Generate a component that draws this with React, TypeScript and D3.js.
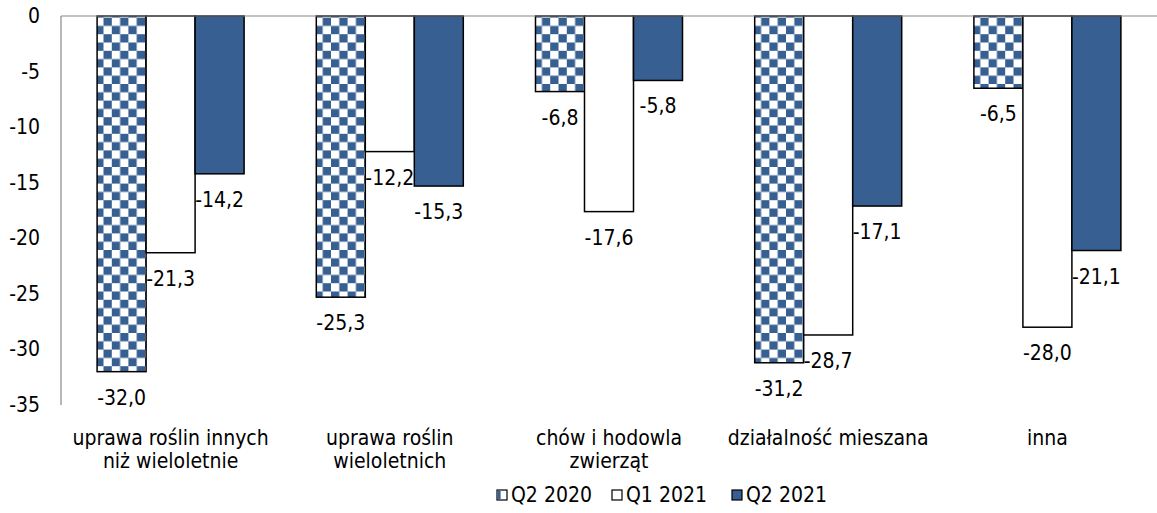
import React from "react";
import * as d3 from "d3";

const categories = [
  ["uprawa roślin innych", "niż wieloletnie"],
  ["uprawa roślin", "wieloletnich"],
  ["chów i hodowla", "zwierząt"],
  ["działalność mieszana"],
  ["inna"],
];
const seriesNames = ["Q2 2020", "Q1 2021", "Q2 2021"];
const q2_2020 = [-32.0, -25.3, -6.8, -31.2, -6.5];
const q1_2021 = [-21.3, -12.2, -17.6, -28.7, -28.0];
const q2_2021 = [-14.2, -15.3, -5.8, -17.1, -21.1];
const yTicks = [0, -5, -10, -15, -20, -25, -30, -35];

const BLUE = "#375F91";
const FONT = "'DejaVu Sans Condensed', 'DejaVu Sans', sans-serif";

const width = 1157;
const height = 513;
const margin = { top: 16, right: 0, bottom: 108, left: 61 };

const fills = ["url(#checker)", "#ffffff", BLUE];

export default function App() {
  const values = [q2_2020, q1_2021, q2_2021];
  const catIdx = categories.map((_, i) => String(i));

  const x0 = d3
    .scaleBand<string>()
    .domain(catIdx)
    .range([margin.left, width - margin.right]);
  const groupW = 147;
  const x1 = d3
    .scaleBand<string>()
    .domain(seriesNames)
    .range([(x0.bandwidth() - groupW) / 2, (x0.bandwidth() + groupW) / 2]);
  const y = d3
    .scaleLinear()
    .domain([-35, 0])
    .range([height - margin.bottom, margin.top]);

  const fmt = (v: number) => v.toFixed(1).replace(".", ",");

  const legendItems = [
    { name: seriesNames[0], x: 497 },
    { name: seriesNames[1], x: 612 },
    { name: seriesNames[2], x: 732 },
  ];

  return (
    <svg
      width={width}
      height={height}
      style={{ position: "absolute", left: 0, top: 0, background: "#fff" }}
      fontFamily={FONT}
    >
      <defs>
        <pattern id="checker" x={1} y={1} width={16.6} height={16.6} patternUnits="userSpaceOnUse">
          <rect width={16.6} height={16.6} fill="#fff" />
          <rect x={8.3} y={0} width={8.3} height={8.3} fill={BLUE} />
          <rect x={0} y={8.3} width={8.3} height={8.3} fill={BLUE} />
        </pattern>
      </defs>

      {/* bars */}
      {categories.map((_, ci) => (
        <g key={ci} transform={`translate(${x0(String(ci))},0)`}>
          {seriesNames.map((s, si) => {
            const v = values[si][ci];
            const bx = x1(s)!;
            return (
              <rect
                key={s}
                x={bx}
                y={y(0)}
                width={x1.bandwidth()}
                height={y(v) - y(0)}
                fill={fills[si]}
                stroke="#000"
                strokeWidth={1.5}
              />
            );
          })}
          {seriesNames.map((s, si) => {
            const v = values[si][ci];
            return (
              <text
                key={"l" + s}
                x={x1(s)! + x1.bandwidth() / 2}
                y={y(v) + 26}
                textAnchor="middle"
                dominantBaseline="central"
                fontSize={21}
                fill="#000"
              >
                {fmt(v)}
              </text>
            );
          })}
        </g>
      ))}

      {/* axes */}
      <line
        x1={margin.left}
        x2={width}
        y1={y(0)}
        y2={y(0)}
        stroke="#888"
        strokeWidth={1.2}
      />
      <line
        x1={margin.left}
        x2={margin.left}
        y1={y(0)}
        y2={y(-35)}
        stroke="#888"
        strokeWidth={1.2}
      />
      {yTicks.map((t) => (
        <text
          key={t}
          x={40}
          y={y(t)}
          textAnchor="end"
          dominantBaseline="central"
          fontSize={21}
          fill="#000"
        >
          {t}
        </text>
      ))}

      {/* category labels */}
      {categories.map((lines, ci) => (
        <text
          key={ci}
          x={x0(String(ci))! + x0.bandwidth() / 2}
          textAnchor="middle"
          fontSize={21}
          fill="#000"
        >
          {lines.map((l, li) => (
            <tspan key={li} x={x0(String(ci))! + x0.bandwidth() / 2} y={445 + li * 23}>
              {l}
            </tspan>
          ))}
        </text>
      ))}

      {/* legend */}
      {legendItems.map((it, i) => (
        <g key={it.name} transform={`translate(${it.x},${495})`}>
          <rect
            x={0}
            y={-5}
            width={10}
            height={10}
            fill={i === 0 ? "#fff" : fills[i]}
            stroke="#000"
            strokeWidth={1.2}
          />
          {i === 0 && <rect x={0.6} y={-4.4} width={3} height={8.8} fill={BLUE} />}
          <text x={14} y={0} dominantBaseline="central" fontSize={21} fill="#000">
            {it.name}
          </text>
        </g>
      ))}
    </svg>
  );
}
